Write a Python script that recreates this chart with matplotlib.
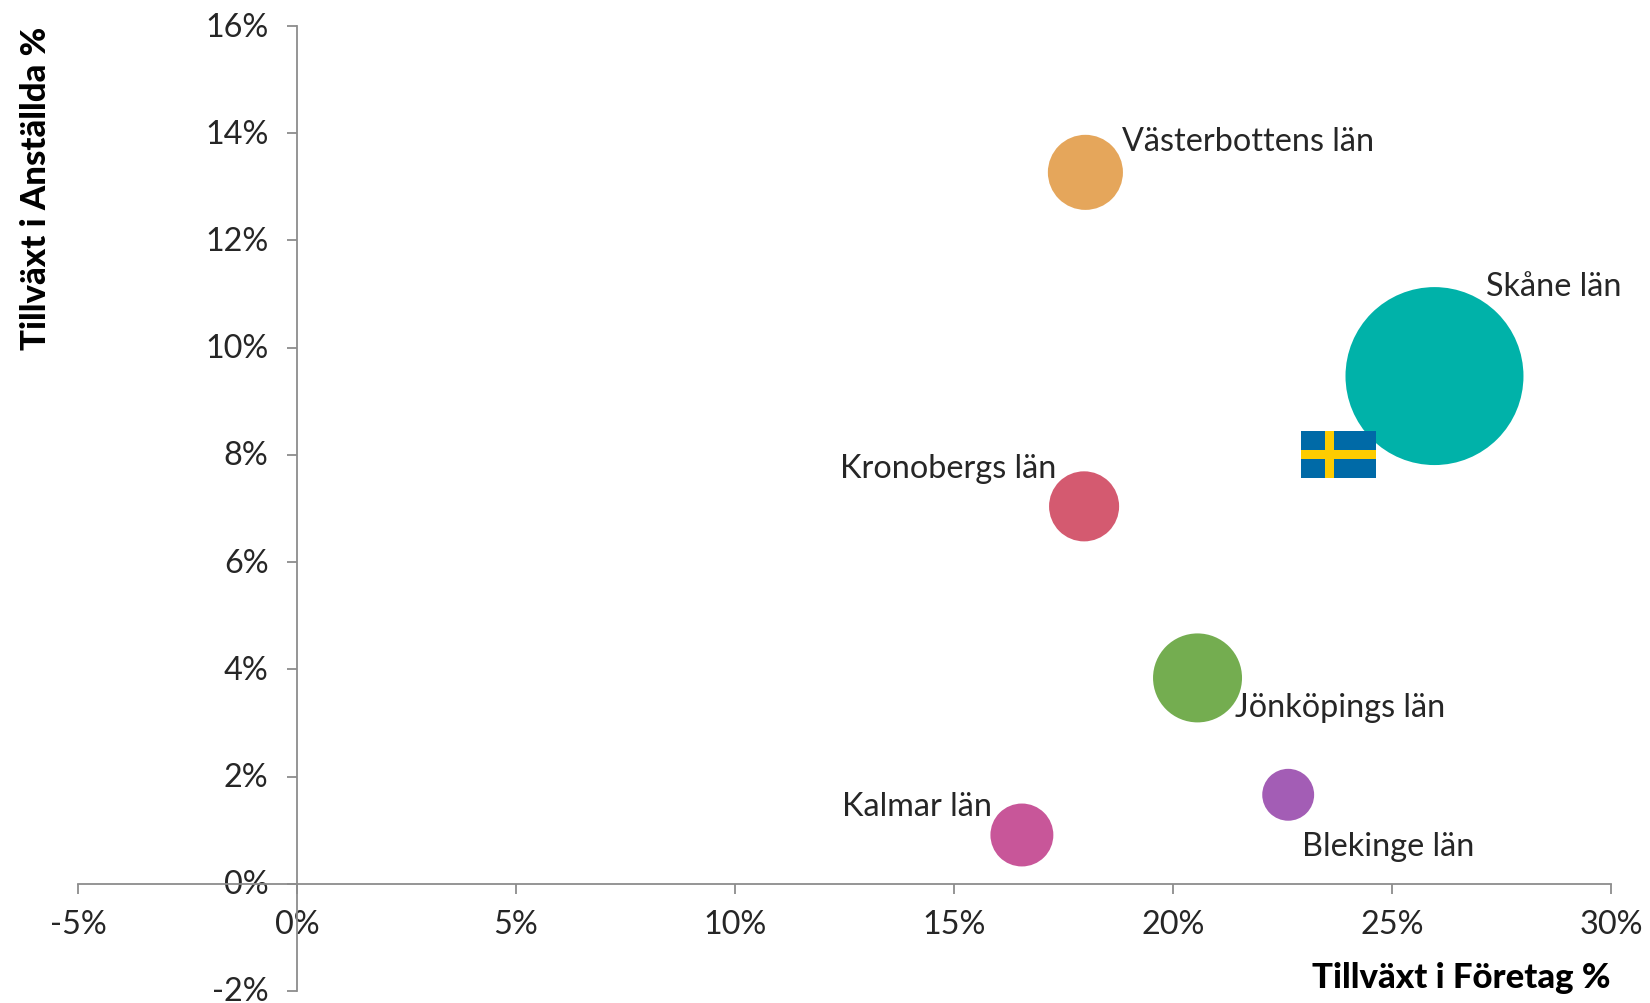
"""
bubble chart of growth in companies vs growth in employees per county
"""
import matplotlib
matplotlib.use("Agg")
import matplotlib.pyplot as plt
import matplotlib.ticker as mticker
from matplotlib.transforms import ScaledTranslation

plt.rcParams["font.family"] = ["Lato", "DejaVu Sans"]

# data
counties = ["Västerbottens län", "Skåne län", "Kronobergs län", "Jönköpings län", "Blekinge län", "Kalmar län"]
growth_companies = [18.0, 25.97, 17.97, 20.56, 22.63, 16.55]
growth_employees = [13.27, 9.47, 7.04, 3.84, 1.66, 0.91]
bubble_values = [17.8, 100.0, 15.5, 25.0, 8.5, 12.5]

x_ticks = [-5, 0, 5, 10, 15, 20, 25, 30]
y_ticks = [-2, 0, 2, 4, 6, 8, 10, 12, 14, 16]

colors = ["#E5A65B", "#00B2A9", "#D45A70", "#74AD50", "#A35DB5", "#C85699"]
# label offset from bubble centre in pixels, and horizontal alignment
label_offsets = [(37, 31), (52, 90), (-28, 38), (37, -29), (14, -51), (-30, 29)]
label_aligns = ["left", "left", "right", "left", "left", "right"]

WIDTH, HEIGHT = 1650, 1004
GREY = "#8C8C8C"
TEXT = "#262626"
LABEL_SIZE = 23.3
TITLE_SIZE = 25


def main():
    fig = plt.figure(figsize=(WIDTH / 100, HEIGHT / 100), dpi=100)
    ax = fig.add_axes([78 / WIDTH, 1 - 992 / HEIGHT, (1611 - 78) / WIDTH, (992 - 27) / HEIGHT])

    ax.scatter(growth_companies, growth_employees, s=[v * 164.2 for v in bubble_values],
               c=colors, linewidths=0, zorder=3, clip_on=False)

    for name, x, y, offset, align in zip(counties, growth_companies, growth_employees, label_offsets, label_aligns):
        ax.annotate(name, (x, y), xytext=offset, textcoords="offset pixels",
                    ha=align, va="center", fontsize=LABEL_SIZE, color=TEXT, zorder=4)

    ax.set_xlim(-5, 30)
    ax.set_ylim(-2, 16)
    ax.set_xticks(x_ticks)
    ax.set_yticks(y_ticks)
    ax.xaxis.set_major_formatter(mticker.FuncFormatter(lambda v, _: f"{v:.0f}%"))
    ax.yaxis.set_major_formatter(mticker.FuncFormatter(lambda v, _: f"{v:.0f}%"))

    # axes cross at zero
    ax.spines["left"].set_position(("data", 0))
    ax.spines["bottom"].set_position(("data", 0))
    ax.spines["top"].set_visible(False)
    ax.spines["right"].set_visible(False)
    for side in ["left", "bottom"]:
        ax.spines[side].set_color(GREY)
        ax.spines[side].set_linewidth(1.3)
    ax.tick_params(axis="both", which="major", labelsize=LABEL_SIZE, labelcolor=TEXT,
                   color=GREY, width=1.3, length=7.5, direction="out")
    ax.tick_params(axis="x", pad=11)
    ax.tick_params(axis="y", pad=13)

    # y labels sit slightly above their ticks in the original
    shift = ScaledTranslation(0, 2.5 / 100, fig.dpi_scale_trans)
    for label in ax.get_yticklabels():
        label.set_transform(label.get_transform() + shift)

    ax.text(1.0, (992 - 978) / (992 - 27), "Tillväxt i Företag %", transform=ax.transAxes,
            ha="right", va="center", fontsize=TITLE_SIZE, fontweight="black", color="black")
    fig.text(36 / WIDTH, 1 - 27 / HEIGHT, "Tillväxt i Anställda %", rotation=90,
             ha="center", va="top", fontsize=TITLE_SIZE, fontweight="black", color="black")

    # swedish flag drawn on top of the bubbles
    flag = fig.add_axes([1301 / WIDTH, 1 - 479 / HEIGHT, 75 / WIDTH, 47 / HEIGHT], facecolor="#006AA7")
    flag.set_xlim(0, 75)
    flag.set_ylim(0, 47)
    flag.axvspan(23.7, 33, color="#FECC00", linewidth=0)
    flag.axhspan(18.7, 28, color="#FECC00", linewidth=0)
    flag.set_xticks([])
    flag.set_yticks([])
    for spine in flag.spines.values():
        spine.set_visible(False)

    fig.savefig("out.png", dpi=100, facecolor="white")


if __name__ == "__main__":
    main()
